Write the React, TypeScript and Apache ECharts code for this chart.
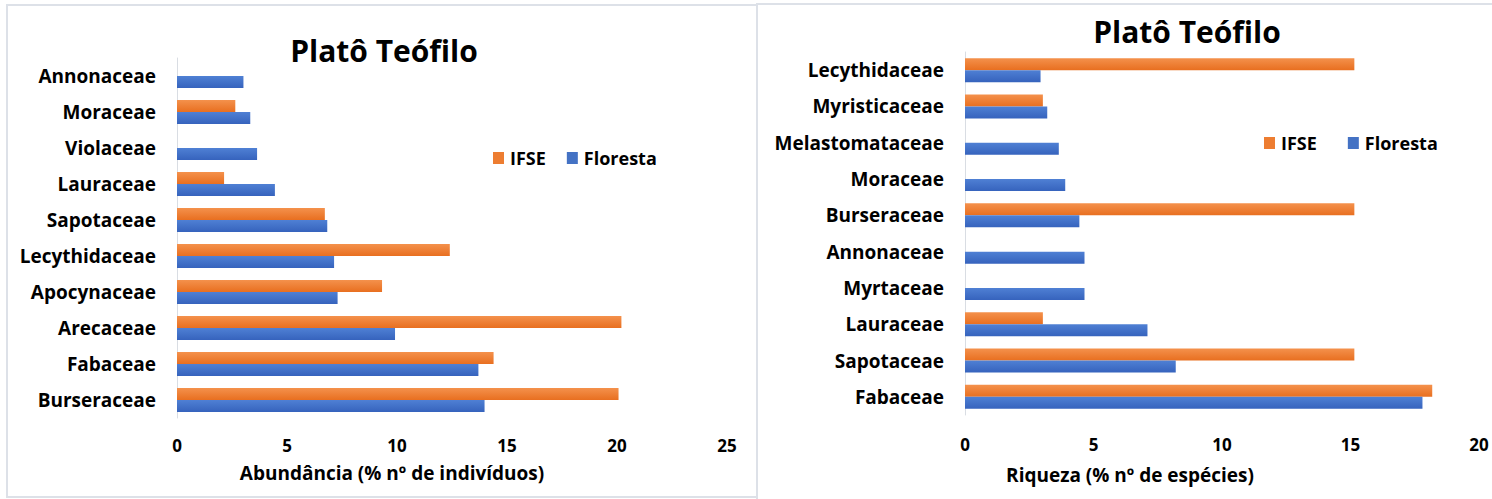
import React, { useEffect, useRef } from "react";
import * as echarts from "echarts";

// ---- Data ----
const leftCategories = [
  "Annonaceae", "Moraceae", "Violaceae", "Lauraceae", "Sapotaceae",
  "Lecythidaceae", "Apocynaceae", "Arecaceae", "Fabaceae", "Burseraceae",
];
const leftIFSE = [0, 2.65, 0, 2.14, 6.72, 12.4, 9.32, 20.2, 14.39, 20.07];
const leftFloresta = [3.02, 3.33, 3.64, 4.45, 6.83, 7.14, 7.3, 9.91, 13.7, 13.98];

const rightCategories = [
  "Lecythidaceae", "Myristicaceae", "Melastomataceae", "Moraceae", "Burseraceae",
  "Annonaceae", "Myrtaceae", "Lauraceae", "Sapotaceae", "Fabaceae",
];
const rightIFSE = [15.15, 3.03, 0, 0, 15.15, 0, 0, 3.03, 15.15, 18.18];
const rightFloresta = [2.94, 3.2, 3.65, 3.9, 4.45, 4.65, 4.65, 7.1, 8.2, 17.8];

const leftTicks = [0, 5, 10, 15, 20, 25];
const rightTicks = [0, 5, 10, 15, 20];

const titleText = "Platô Teófilo";
const leftAxisName = "Abundância (% nº de indivíduos)";
const rightAxisName = "Riqueza (% nº de espécies)";
const seriesNames = ["IFSE", "Floresta"];

const FONT = "'Open Sans', 'Noto Sans', sans-serif";

const orangeFill = new echarts.graphic.LinearGradient(0, 0, 0, 1, [
  { offset: 0, color: "#f4914c" },
  { offset: 1, color: "#e86f20" },
]);
const blueFill = new echarts.graphic.LinearGradient(0, 0, 0, 1, [
  { offset: 0, color: "#4f80d4" },
  { offset: 1, color: "#3663bd" },
]);

export default function App() {
  const ref = useRef<HTMLDivElement>(null);

  useEffect(() => {
    if (!ref.current) return;
    const chart = echarts.init(ref.current, null, { renderer: "svg" });

    const catAxis = (gridIndex: number, data: string[]) => ({
      type: "category",
      gridIndex,
      data,
      inverse: true,
      axisLine: { show: true, lineStyle: { color: "#d9dde3", width: 1 } },
      axisTick: { show: false },
      axisLabel: {
        margin: 21,
        color: "#000",
        fontFamily: FONT,
        fontWeight: "bold",
        fontSize: 19,
      },
    });

    const valAxis = (gridIndex: number, ticks: number[], margin: number) => ({
      type: "value",
      gridIndex,
      min: ticks[0],
      max: ticks[ticks.length - 1],
      interval: ticks[1] - ticks[0],
      splitLine: { show: false },
      axisLine: { show: false },
      axisTick: { show: false },
      axisLabel: {
        margin,
        color: "#000",
        fontFamily: FONT,
        fontWeight: "bold",
        fontSize: 17,
      },
    });

    const bar = (name: string, idx: number, data: number[], fill: any) => ({
      name,
      type: "bar",
      xAxisIndex: idx,
      yAxisIndex: idx,
      data,
      barWidth: 12,
      barGap: "0%",
      itemStyle: { color: fill },
    });

    const legend = (left: number, top: number, gap: number) => ({
      left,
      top,
      orient: "horizontal",
      data: [
        { name: seriesNames[0], itemStyle: { color: "#ed7d31" } },
        { name: seriesNames[1], itemStyle: { color: "#4472c4" } },
      ],
      icon: "rect",
      itemWidth: 11,
      itemHeight: 12,
      itemGap: gap,
      textStyle: {
        color: "#000",
        fontFamily: FONT,
        fontWeight: "bold",
        fontSize: 18,
        padding: [0, 0, 0, 1],
      },
      selectedMode: false,
    });

    const text = (x: number, y: number, t: string, size: number) => ({
      type: "text",
      x,
      y,
      style: {
        text: t,
        fill: "#000",
        font: `bold ${size}px ${FONT}`,
        textAlign: "center",
        textVerticalAlign: "middle",
      },
      silent: true,
    });

    chart.setOption({
      animation: false,
      backgroundColor: "#fff",
      grid: [
        { left: 177, top: 58, width: 550, height: 360, containLabel: false },
        { left: 965, top: 52, width: 514, height: 363, containLabel: false },
      ],
      legend: [legend(488, 144, 21), legend(1259, 129, 31)],
      yAxis: [catAxis(0, leftCategories), catAxis(1, rightCategories)],
      xAxis: [valAxis(0, leftTicks, 19), valAxis(1, rightTicks, 21)],
      series: [
        bar(seriesNames[0], 0, leftIFSE, orangeFill),
        bar(seriesNames[1], 0, leftFloresta, blueFill),
        bar(seriesNames[0], 1, rightIFSE, orangeFill),
        bar(seriesNames[1], 1, rightFloresta, blueFill),
      ],
      graphic: [
        {
          type: "rect",
          shape: { x: 7, y: 5, width: 750, height: 492 },
          style: { fill: "none", stroke: "#dde1e8", lineWidth: 2 },
          silent: true,
          z: -1,
        },
        {
          type: "rect",
          shape: { x: 757, y: 4, width: 800, height: 600 },
          style: { fill: "none", stroke: "#dde1e8", lineWidth: 2 },
          silent: true,
          z: -1,
        },
        text(384, 50, titleText, 30),
        text(1187, 31, titleText, 30),
        text(392, 473, leftAxisName, 19),
        text(1130, 475, rightAxisName, 19),
      ],
    });

    return () => chart.dispose();
  }, []);

  return (
    <div
      ref={ref}
      style={{
        position: "absolute",
        left: 0,
        top: 0,
        width: 1492,
        height: 499,
        background: "#fff",
      }}
    />
  );
}
